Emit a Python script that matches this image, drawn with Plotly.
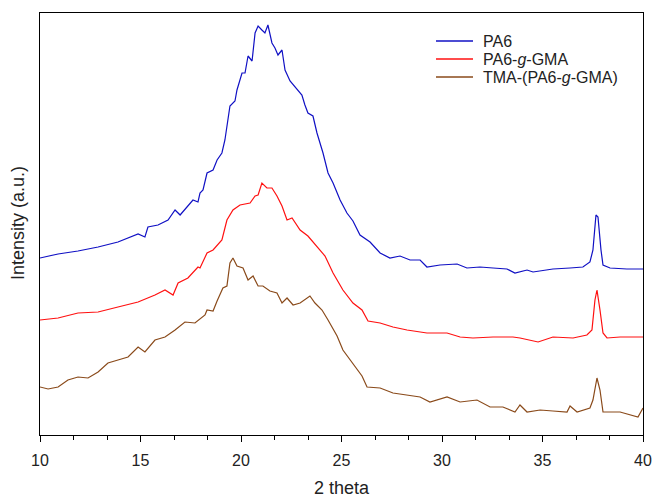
import plotly.graph_objects as go

# PA6
pa6_x = [10.00, 10.90, 11.89, 12.89, 13.88, 14.88, 15.22, 15.37, 15.87, 16.37, 16.72, 16.97,
         17.61, 17.86, 17.96, 18.11, 18.31, 18.61, 18.81, 19.05, 19.20, 19.45, 19.70, 19.80,
         20.05, 20.20, 20.35, 20.55, 20.70, 20.85, 21.04, 21.19, 21.34, 21.54, 21.69, 21.84,
         22.04, 22.19, 22.44, 22.79, 23.03, 23.18, 23.33, 23.58, 23.78, 24.08, 24.33, 24.58,
         24.93, 25.27, 25.57, 25.92, 26.42, 26.92, 27.41, 27.91, 28.41, 28.91, 29.25, 29.90,
         30.75, 31.24, 31.89, 32.54, 33.23, 33.63, 34.23, 34.53, 35.52, 36.37, 37.01, 37.36,
         37.51, 37.66, 37.76, 37.91, 38.01, 38.36, 39.20, 40.00]
pa6_y = [177, 181, 184, 188, 193, 201, 198, 208, 210, 215, 225, 220,
         235, 233, 242, 245, 262, 265, 275, 282, 295, 329, 334, 345,
         362, 362, 379, 374, 402, 409, 405, 402, 410, 392, 387, 380,
         385, 365, 354, 345, 340, 330, 322, 319, 302, 282, 262, 252,
         235, 222, 214, 200, 193, 182, 177, 179, 175, 175, 168, 170,
         171, 167, 168, 167, 166, 162, 165, 163, 166, 167, 168, 173,
         185, 220, 218, 185, 170, 167, 166, 166]

# PA6-g-GMA
gma_x = [10.00, 10.90, 11.89, 12.89, 13.88, 14.88, 15.72, 16.22, 16.62, 16.87, 17.36, 17.86,
         17.96, 18.31, 18.61, 19.05, 19.30, 19.60, 19.95, 20.45, 20.70, 20.85, 21.04, 21.29,
         21.54, 21.79, 22.04, 22.29, 22.54, 22.94, 23.33, 23.78, 24.18, 24.58, 25.07, 25.57,
         26.02, 26.32, 26.92, 27.56, 28.26, 29.25, 30.25, 30.90, 31.54, 32.54, 33.53, 33.88,
         34.78, 35.52, 36.52, 37.21, 37.46, 37.61, 37.71, 37.86, 38.01, 38.21, 38.86, 40.00]
gma_y = [115, 117, 122, 123, 128, 133, 140, 145, 140, 152, 157, 168,
         167, 182, 185, 195, 215, 225, 230, 232, 239, 240, 252, 247,
         247, 239, 229, 215, 217, 205, 199, 189, 179, 162, 145, 132,
         125, 114, 112, 108, 105, 102, 102, 98, 97, 98, 98, 97,
         93, 98, 97, 100, 105, 135, 145, 125, 102, 97, 98, 98]

# TMA-(PA6-g-GMA)
tma_x = [10.00, 10.40, 10.90, 11.39, 11.89, 12.39, 12.89, 13.38, 13.88, 14.38, 14.88, 15.22,
         15.72, 16.22, 16.72, 17.21, 17.71, 17.96, 18.21, 18.31, 18.61, 18.81, 19.10, 19.30,
         19.45, 19.60, 19.80, 20.10, 20.35, 20.60, 20.85, 21.09, 21.44, 21.79, 22.04, 22.29,
         22.59, 22.94, 23.18, 23.43, 23.68, 24.03, 24.33, 24.78, 25.07, 25.42, 25.77, 26.02,
         26.27, 26.92, 27.56, 28.26, 28.91, 29.40, 30.25, 30.90, 31.74, 32.39, 33.03, 33.63,
         33.88, 34.23, 34.88, 35.52, 36.22, 36.37, 36.72, 37.36, 37.51, 37.71, 37.86, 38.01,
         38.86, 39.75, 40.00]
tma_y = [48, 46, 48, 55, 58, 57, 63, 72, 75, 78, 88, 83,
         95, 98, 105, 113, 112, 116, 120, 125, 124, 134, 147, 149,
         172, 177, 169, 167, 155, 159, 149, 149, 144, 142, 132, 137,
         130, 132, 135, 139, 132, 125, 115, 99, 85, 75, 65, 59,
         48, 47, 42, 40, 38, 33, 38, 33, 35, 28, 28, 23,
         30, 23, 25, 24, 23, 29, 23, 27, 35, 57, 45, 23,
         23, 18, 27]

names = ["PA6", "PA6-<i>g</i>-GMA", "TMA-(PA6-<i>g</i>-GMA)"]
colors = ["#1010c4", "#ff1010", "#8a4a1a"]
xs_all = [pa6_x, gma_x, tma_x]
ys_all = [pa6_y, gma_y, tma_y]

# the page body margin is removed in post_script, so the figure fills the window
OFF = 0
W, H = 652, 498
ML, MR, MT, MB = 40, 9, 13, 63
PW, PH = W - ML - MR, H - MT - MB

fig = go.Figure()
for name, xs, ys, col in zip(names, xs_all, ys_all, colors):
    fig.add_trace(go.Scatter(x=xs, y=ys, mode="lines", name=name,
                             line=dict(color=col, width=1.2), showlegend=False))

# helpers: page pixel -> paper coordinate
def pgx(px):
    return (px - OFF - ML) / PW

def pgy(py):
    return (H - MB - (py - OFF)) / PH

legend_rows = [41, 59, 77]
shapes, annotations = [], []
for name, col, row in zip(names, colors, legend_rows):
    yy = pgy(row)
    shapes.append(dict(type="line", xref="paper", yref="paper",
                       x0=pgx(436), x1=pgx(473), y0=yy, y1=yy,
                       line=dict(color=col, width=1.5)))
    annotations.append(dict(text=name, xref="paper", yref="paper",
                            x=pgx(481), y=yy, xanchor="left", yanchor="middle",
                            showarrow=False, font=dict(size=16, color="#222")))

annotations.append(dict(text="2 theta", xref="paper", yref="paper",
                        x=pgx(342), y=pgy(488),
                        xanchor="center", yanchor="middle", showarrow=False,
                        font=dict(size=18, color="#222")))
annotations.append(dict(text="Intensity (a.u.)", xref="paper", yref="paper",
                        x=pgx(18), y=pgy(223), textangle=-90,
                        xanchor="center", yanchor="middle", showarrow=False,
                        font=dict(size=18, color="#222")))

fig.update_layout(
    width=W, height=H,
    margin=dict(l=ML, r=MR, t=MT, b=MB),
    paper_bgcolor="white", plot_bgcolor="white",
    font=dict(family="Liberation Sans, Arial, sans-serif", size=16, color="#222"),
    showlegend=False,
    shapes=shapes, annotations=annotations,
    xaxis=dict(range=[10, 40], dtick=5, tick0=10, ticks="outside", ticklen=6,
               tickcolor="black", showline=True, linecolor="black", linewidth=1,
               mirror=True, showgrid=False, zeroline=False, automargin=False,
               ticklabelstandoff=5, tickfont=dict(size=16), ticklabeloverflow="allow",
               minor=dict(dtick=5/3, tick0=10, ticks="outside", ticklen=4,
                          tickcolor="black", showgrid=False)),
    yaxis=dict(range=[0, 422], showticklabels=False, ticks="",
               showline=True, linecolor="black", linewidth=1, mirror=True,
               showgrid=False, zeroline=False, automargin=False),
)

fig.write_html("out.html", config={"displayModeBar": False},
               post_script="document.body.style.margin='0';document.body.style.overflow='hidden';")
